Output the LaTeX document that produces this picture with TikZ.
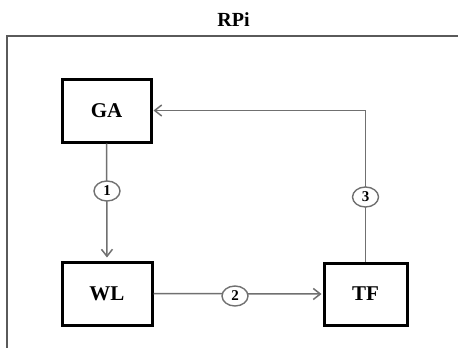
\documentclass[tikz,border=0pt]{standalone}
\usepackage{fontspec}
\setmainfont{Liberation Serif}
\usetikzlibrary{arrows.meta,shapes.geometric}
\definecolor{lineg}{RGB}{112,112,112}
\definecolor{frameg}{RGB}{90,90,90}
\begin{document}
\begin{tikzpicture}[x=1pt,y=-1pt,
  blk/.style={draw=black,line width=3pt,fill=white,inner sep=0pt,font=\fontsize{21}{24}\selectfont\bfseries},
  conn/.style={draw=lineg,line width=1.5pt},
  arr/.style={conn,-{Straight Barb[length=7pt,width=11pt,line width=1.5pt]}},
  num/.style={ellipse,draw=lineg,line width=1.4pt,fill=white,minimum width=26pt,minimum height=20pt,inner sep=0pt,font=\fontsize{15}{17}\selectfont\bfseries}
]
\useasboundingbox (0,0) rectangle (458,348);
\clip (0,0) rectangle (458,348);
\fill[white] (0,0) rectangle (458,348);
% frame
\draw[frameg,line width=2pt] (7,400) -- (7,36) -- (470,36);
\node[font=\fontsize{20}{22}\selectfont\bfseries] (rpi) at (233.5,20) {RPi};
% blocks
\node[blk,minimum width=89pt,minimum height=63pt] (ga) at (106.5,110.5) {GA};
\node[blk,minimum width=90pt,minimum height=63pt] (wl) at (107,293.5) {WL};
\node[blk,minimum width=83pt,minimum height=62pt] (tf) at (365.5,294) {TF};
% connectors
\coordinate (corner) at (tf.north |- ga.east);
\draw[arr,shorten >=3pt] (ga.south) -- (wl.north);
\draw[arr,shorten >=1pt] (wl.east) -- (tf.west);
\draw[arr,shorten >=1pt] (tf.north) -- (corner) -- (ga.east);
% numbered markers
\node[num] (n1) at (107,191) {1};
\node[num] (n2) at (235,296) {2};
\node[num] (n3) at (365.5,197) {3};
\end{tikzpicture}
\end{document}
